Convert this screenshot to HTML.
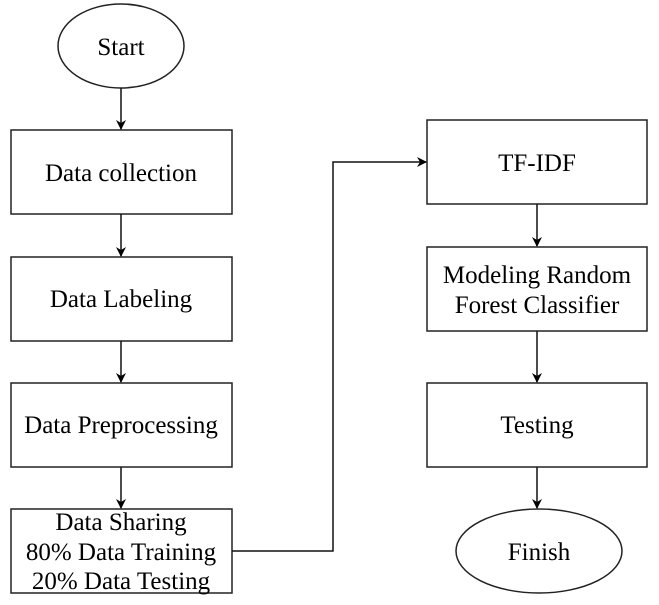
<!DOCTYPE html>
<html><head><style>body{margin:0;background:#fff}</style></head><body>
<svg width="659" height="600" xmlns="http://www.w3.org/2000/svg" font-family="Liberation Serif, serif" font-size="25" text-anchor="middle">
<defs><marker id="a" markerWidth="10" markerHeight="10" refX="9" refY="5" orient="auto" markerUnits="userSpaceOnUse"><path d="M0,0 L10,5 L0,10 L3,5 z" fill="#000"/></marker></defs>
<g fill="#fff" stroke="#222" stroke-width="1.5">
<ellipse cx="121" cy="46" rx="63" ry="42"/>
<rect x="11" y="130" width="221" height="84"/>
<rect x="11" y="257" width="221" height="84"/>
<rect x="11" y="383" width="221" height="84"/>
<rect x="11" y="509" width="221" height="84"/>
<rect x="427" y="120" width="220" height="84"/>
<rect x="427" y="247" width="220" height="84"/>
<rect x="427" y="383" width="220" height="84"/>
<ellipse cx="539" cy="551" rx="83" ry="42"/>
</g>
<g stroke="#111" stroke-width="1.5" fill="none" marker-end="url(#a)">
<line x1="121" y1="88" x2="121" y2="129"/>
<line x1="121" y1="214" x2="121" y2="256"/>
<line x1="121" y1="341" x2="121" y2="382"/>
<line x1="121" y1="467" x2="121" y2="508"/>
<polyline points="232,551 333,551 333,162 426,162"/>
<line x1="537" y1="204" x2="537" y2="246"/>
<line x1="537" y1="331" x2="537" y2="382"/>
<line x1="537" y1="467" x2="537" y2="508"/>
</g>
<text x="121" y="55">Start</text>
<text x="121" y="181">Data collection</text>
<text x="121" y="307">Data Labeling</text>
<text x="121" y="433">Data Preprocessing</text>
<text x="121" y="530">Data Sharing</text>
<text x="121" y="560">80% Data Training</text>
<text x="121" y="589">20% Data Testing</text>
<text x="537" y="171">TF-IDF</text>
<text x="537" y="283">Modeling Random</text>
<text x="537" y="313">Forest Classifier</text>
<text x="537" y="433">Testing</text>
<text x="539" y="560">Finish</text>
</svg>
</body></html>
